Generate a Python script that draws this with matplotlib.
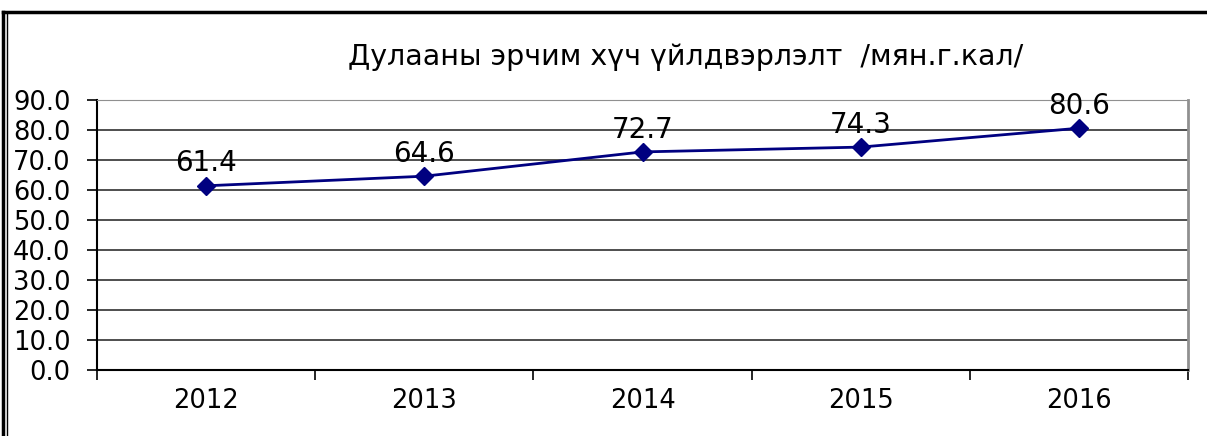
import numpy as np
import matplotlib.pyplot as plt
from matplotlib.lines import Line2D

years = ['2012', '2013', '2014', '2015', '2016']
values = [61.4, 64.6, 72.7, 74.3, 80.6]
yticks = [0, 10, 20, 30, 40, 50, 60, 70, 80, 90]

plt.rcParams['font.family'] = ['DejaVu Sans']

W, H = 1207, 436
fig = plt.figure(figsize=(W / 100, H / 100), dpi=100)
ax = fig.add_axes([97 / W, 1 - 370 / H, (1188 - 97) / W, (370 - 100) / H])

x = np.arange(len(years))
ax.plot(x, values, color='#000080', lw=2, marker='D', ms=9, zorder=3)
for xi, v in zip(x, values):
    ax.annotate(f'{v:.1f}', (xi, v), xytext=(0, 6), textcoords='offset points',
                ha='center', va='bottom', fontsize=20, color='black')

ax.set_xlim(-0.5, len(years) - 0.5)
ax.set_ylim(0, 90)
ax.set_yticks(yticks)
ax.set_yticklabels([f'{t:.1f}' for t in yticks], fontsize=18.5)
ax.set_xticks(x)
ax.set_xticklabels(years, fontsize=18.5)
ax.set_xticks(np.arange(-0.5, len(years)), minor=True)
ax.tick_params(axis='x', which='major', length=0, pad=13)
ax.tick_params(axis='x', which='minor', length=7, width=1.2, direction='out')
ax.tick_params(axis='y', length=7, width=1.2, direction='out', pad=12)
ax.yaxis.grid(True, color='#303030', lw=1.2)
ax.set_axisbelow(True)

ax.spines['left'].set_linewidth(1.5)
ax.spines['bottom'].set_linewidth(1.5)
ax.spines['top'].set_color('#909090')
ax.spines['right'].set_color('#909090')
ax.spines['right'].set_linewidth(2)

fig.text(686 / W, 1 - 57 / H, 'Дулааны эрчим хүч үйлдвэрлэлт  /мян.г.кал/',
         ha='center', va='center', fontsize=20.5)

# outer frame
fig.add_artist(Line2D([3 / W, 1], [1 - 12 / H] * 2, color='black', lw=2.5,
                      transform=fig.transFigure))
fig.add_artist(Line2D([3 / W, 3 / W], [0, 1 - 12 / H], color='black', lw=2.5,
                      transform=fig.transFigure))
fig.add_artist(Line2D([7 / W, 7 / W], [0, 1 - 12 / H], color='black', lw=1,
                      transform=fig.transFigure))

fig.savefig('out.png', dpi=100)
